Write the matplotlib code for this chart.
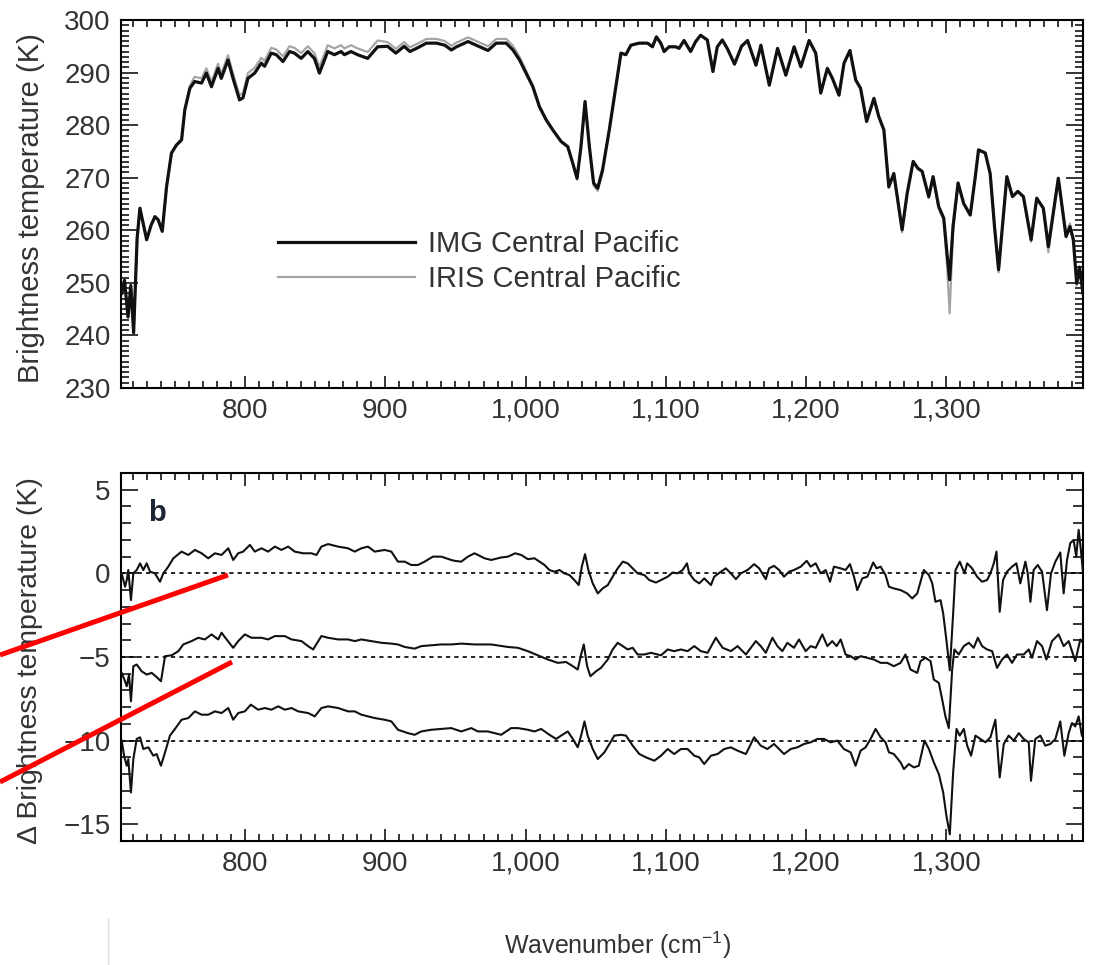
import matplotlib
matplotlib.use("Agg")
import matplotlib.pyplot as plt
from matplotlib.lines import Line2D
from matplotlib.ticker import MultipleLocator, FixedLocator, FixedFormatter

# ---------------- data ----------------
XTICKS = [800, 900, 1000, 1100, 1200, 1300]
XTICKLABELS = ["800", "900", "1,000", "1,100", "1,200", "1,300"]
TOP_YTICKS = [230, 240, 250, 260, 270, 280, 290, 300]
BOT_YTICKS = [-15, -10, -5, 0, 5]
OFFSETS = [0, -5, -10]
SERIES_NAMES = ["IMG Central Pacific", "IRIS Central Pacific"]

WN = [712, 714, 716.5, 718.5, 720.5, 723, 725, 729.8, 733, 735.7,
      738, 740.9, 744, 747.5, 751, 754.7, 757, 760.6, 764, 768.9,
      772.4, 776, 780.7, 783, 787.8, 791.4, 796, 798.5, 802, 806.8,
      811.5, 813.9, 818.6, 822.2, 827, 831.7, 835.2, 840, 844.7, 849.4,
      853, 858.9, 863.7, 868.4, 870.8, 875.5, 880.2, 887.4, 894.5, 901.6,
      907.5, 913.4, 917.5, 922.2, 929.3, 936.5, 942.4, 947.1, 950.7, 959,
      964.9, 973.2, 979.1, 986.2, 991, 995.7, 1000.4, 1005.2, 1009.9, 1014.7,
      1019.4, 1025.3, 1030.1, 1033.6, 1036.7, 1039.5, 1042.4, 1045.5, 1048.5, 1051.4,
      1054.9, 1059.7, 1064.4, 1068, 1071.5, 1075.1, 1081, 1086.9, 1090.5, 1093.3,
      1096.4, 1098.8, 1102.3, 1107.1, 1109.4, 1113, 1117.7, 1121.3, 1124.8, 1129.6,
      1133.6, 1136.7, 1140.3, 1144, 1149, 1154, 1158.3, 1164.3, 1167.8, 1173.8,
      1179.7, 1185.6, 1191.5, 1196.3, 1202.2, 1206.9, 1210.5, 1215.2, 1218.8, 1223.5,
      1227.1, 1231.3, 1235.4, 1238.9, 1243.2, 1248.4, 1251.9, 1255.5, 1259, 1262.6,
      1268.5, 1272.1, 1276.4, 1279.7, 1282.8, 1287.5, 1290.6, 1294.6, 1298.2, 1300.5,
      1302.4, 1304.8, 1308.4, 1312.4, 1317.1, 1320.7, 1323, 1327.8, 1331.3, 1334.4,
      1337.3, 1339.6, 1343.2, 1347.2, 1351, 1355, 1360.5, 1364.5, 1369.2, 1372.8,
      1379.9, 1385.4, 1388.2, 1390.6, 1393, 1395, 1397.5]

IMG = [248.0, 250.5, 243.5, 249.5, 240.5, 258.5, 264.2, 258.2, 261.0, 262.6,
       262.0, 259.8, 268.3, 274.7, 276.2, 277.2, 282.9, 287.0, 288.3, 288.0,
       289.9, 287.3, 290.8, 288.9, 292.4, 288.9, 284.8, 285.2, 288.9, 289.9,
       291.8, 291.2, 293.7, 293.4, 292.1, 294.0, 293.7, 292.7, 294.0, 292.7,
       289.9, 294.0, 293.4, 294.0, 293.4, 294.0, 293.4, 292.7, 294.9, 295.0,
       293.7, 295.0, 294.0, 294.6, 295.6, 295.6, 295.2, 294.3, 294.9, 295.9,
       295.2, 294.2, 295.6, 295.6, 294.3, 292.4, 289.9, 287.3, 283.5, 281.0,
       279.1, 276.9, 275.9, 272.8, 269.9, 275.9, 284.5, 275.9, 269.0, 268.0,
       271.5, 279.1, 287.3, 293.7, 293.4, 295.2, 295.6, 295.6, 294.9, 296.8,
       295.6, 294.0, 294.9, 294.9, 294.6, 296.1, 294.0, 295.9, 297.1, 296.2,
       290.2, 294.9, 296.2, 294.5, 291.6, 295.0, 296.1, 291.4, 295.2, 287.6,
       294.6, 289.5, 294.9, 291.1, 296.1, 293.7, 286.1, 290.8, 288.9, 285.7,
       291.8, 294.2, 288.6, 287.0, 280.7, 285.1, 281.6, 279.1, 268.3, 270.8,
       260.1, 267.0, 273.1, 271.8, 271.2, 266.4, 270.2, 264.5, 262.3, 255.6,
       250.6, 260.7, 269.0, 265.1, 262.9, 270.2, 275.3, 274.7, 270.8, 260.7,
       252.5, 259.4, 270.2, 266.4, 267.4, 266.4, 258.2, 266.1, 264.2, 256.9,
       269.9, 258.8, 260.7, 258.2, 249.9, 253.0, 248.0]

IRIS = [248.0, 250.5, 243.5, 249.5, 240.5, 258.5, 264.2, 258.2, 261.0, 262.6,
        262.0, 259.8, 268.3, 274.7, 276.2, 277.2, 283.1, 287.5, 289.2, 288.9,
        290.8, 288.2, 291.7, 289.8, 293.3, 289.8, 285.7, 286.1, 289.9, 290.9,
        292.8, 292.2, 294.7, 294.4, 293.1, 295.0, 294.7, 293.7, 295.0, 293.7,
        291.1, 295.2, 294.6, 295.2, 294.6, 295.2, 294.6, 293.9, 296.1, 295.8,
        294.5, 295.8, 294.8, 295.4, 296.4, 296.4, 296.0, 295.1, 295.7, 296.7,
        296.0, 295.0, 296.4, 296.4, 295.1, 293.0, 290.3, 287.5, 283.5, 281.0,
        279.1, 276.9, 275.9, 272.8, 269.6, 275.9, 284.5, 275.9, 268.5, 267.5,
        271.0, 279.1, 287.3, 293.7, 293.4, 295.2, 295.6, 295.6, 294.9, 296.8,
        295.6, 294.0, 294.9, 294.9, 294.6, 296.1, 294.0, 295.9, 297.1, 296.2,
        290.2, 294.9, 296.2, 294.5, 291.6, 295.0, 296.1, 291.4, 295.2, 287.6,
        294.6, 289.5, 294.9, 291.1, 296.1, 293.7, 286.1, 290.8, 288.9, 285.7,
        291.8, 294.2, 288.6, 287.0, 280.7, 285.1, 281.6, 279.1, 268.0, 270.8,
        259.6, 267.0, 273.1, 271.8, 271.2, 266.1, 270.2, 264.2, 262.0, 253.5,
        244.2, 259.5, 269.0, 265.1, 262.9, 270.2, 275.3, 274.7, 270.8, 260.7,
        252.0, 259.4, 270.2, 266.4, 267.4, 266.4, 257.8, 266.1, 264.2, 255.8,
        269.9, 259.4, 261.3, 258.5, 249.5, 253.0, 248.0]

D1_WN = [712, 714.4, 715.6, 716.7, 718.6, 720.3, 722.7, 725.1, 727.4, 729.8,
         732.2, 735.7, 739.3, 741.7, 745.2, 748.8, 754.7, 759.5, 764.2, 769.0,
         773.7, 778.5, 783.2, 788.0, 791.5, 795.1, 798.6, 803.4, 806.9, 811.7,
         816.4, 821.2, 825.9, 830.7, 835.4, 841.4, 847.3, 850.9, 854.4, 859.2,
         866.3, 873.4, 878.2, 882.9, 887.6, 892.4, 899.5, 904.3, 909.0, 913.8,
         918.5, 923.2, 928.0, 933.9, 939.9, 947.0, 949.4, 954.1, 958.9, 963.6,
         970.8, 975.5, 982.6, 987.4, 992.6, 996.9, 1001.6, 1006.4, 1009.9, 1013.5,
         1017.0, 1020.6, 1024.2, 1027.7, 1031.3, 1034.8, 1037.9, 1040.1, 1042.4, 1044.8,
         1047.9, 1051.5, 1055.0, 1058.6, 1062.1, 1065.7, 1069.3, 1072.8, 1076.4, 1079.9,
         1084.7, 1088.2, 1093.0, 1097.7, 1101.3, 1104.9, 1108.4, 1112.0, 1115.1, 1116.7,
         1120.3, 1123.9, 1127.4, 1132.2, 1134.5, 1139.3, 1142.8, 1146.4, 1150.0, 1153.5,
         1158.3, 1163.0, 1166.6, 1171.3, 1173.6, 1177.2, 1180.8, 1184.3, 1187.9, 1191.4,
         1196.2, 1200.5, 1203.3, 1206.9, 1210.4, 1214.0, 1217.1, 1219.9, 1224.7, 1228.2,
         1231.3, 1234.2, 1236.5, 1240.1, 1243.7, 1247.9, 1250.3, 1253.2, 1256.7, 1259.1,
         1262.6, 1267.4, 1272.1, 1275.7, 1279.3, 1284.0, 1287.6, 1290.0, 1292.3, 1295.9,
         1297.8, 1300.1, 1302.5, 1304.9, 1306.6, 1309.6, 1313.0, 1314.9, 1318.4, 1322.0,
         1325.5, 1329.1, 1331.5, 1333.9, 1335.8, 1338.1, 1340.5, 1343.3, 1346.9, 1350.0,
         1352.8, 1356.4, 1358.1, 1360.0, 1362.3, 1365.2, 1368.3, 1371.8, 1374.7, 1377.8,
         1381.3, 1383.7, 1386.1, 1388.4, 1390.8, 1392.7, 1394.4, 1396.0, 1397.5]
D1 = [0.0, -0.8, -0.4, 0.2, -1.6, 0.0, 0.2, 0.6, 0.2, 0.6,
      0.1, 0.0, -0.5, 0.0, 0.4, 0.9, 1.3, 1.1, 1.4, 1.2,
      0.9, 1.2, 1.1, 1.5, 0.8, 1.2, 1.3, 1.7, 1.3, 1.5,
      1.3, 1.6, 1.4, 1.6, 1.3, 1.2, 1.2, 1.1, 1.6, 1.75,
      1.6, 1.5, 1.3, 1.5, 1.6, 1.3, 1.4, 1.3, 0.7, 0.7,
      0.5, 0.5, 0.7, 1.0, 1.0, 0.8, 0.75, 0.7, 1.0, 1.2,
      0.9, 0.8, 0.95, 1.0, 1.2, 1.1, 0.85, 0.9, 0.7, 0.5,
      0.2, 0.1, 0.2, 0.0, -0.1, -0.4, -0.7, 0.4, 1.15, 0.2,
      -0.6, -1.2, -0.9, -0.7, -0.2, 0.3, 0.7, 0.6, 0.3, 0.0,
      -0.1, -0.4, -0.55, -0.35, -0.2, 0.05, 0.0, 0.2, 0.6, 0.0,
      -0.4, -0.6, -0.3, -0.7, -0.2, 0.1, 0.3, 0.0, -0.35, 0.0,
      0.2, 0.55, 0.3, -0.35, 0.3, 0.45, 0.2, -0.2, 0.1, 0.2,
      0.4, 0.75, 0.4, 0.6, 0.0, 0.2, -0.5, 0.4, 0.3, 0.2,
      0.55, -0.2, -1.0, -0.3, -0.2, 0.65, 0.3, 0.4, -0.1, -0.8,
      -0.9, -1.0, -1.2, -1.5, -1.2, 0.2, -0.1, -0.6, -1.7, -1.6,
      -2.4, -4.0, -5.8, -2.4, 0.2, 0.7, 0.0, 0.6, 0.3, -0.2,
      -0.5, -0.4, 0.0, 0.6, 1.3, -2.3, -0.4, 0.1, 0.4, 0.6,
      -0.6, 0.7, 0.0, -1.7, 0.2, 0.5, 0.1, -2.2, 0.0, 0.7,
      1.25, -1.2, 0.8, 1.8, 2.0, 1.0, 2.6, 1.4, 0.0]

D2_WN = [712, 713.9, 715.6, 717.2, 718.6, 720.3, 722.7, 726.2, 729.8, 733.4,
         736.9, 740.0, 742.9, 747.6, 752.4, 755.9, 761.8, 766.6, 771.3, 776.1,
         780.8, 783.2, 786.8, 791.5, 795.1, 799.8, 804.6, 811.7, 816.4, 821.2,
         828.3, 833.1, 840.2, 844.9, 848.5, 854.4, 859.2, 866.3, 873.4, 878.2,
         882.9, 890.0, 897.1, 904.3, 909.0, 913.8, 920.9, 925.6, 932.7, 939.9,
         947.0, 954.1, 963.6, 975.5, 987.4, 994.5, 1001.6, 1008.7, 1015.9, 1023.0,
         1028.9, 1033.7, 1037.2, 1039.6, 1041.5, 1043.9, 1046.2, 1050.3, 1053.8, 1058.6,
         1062.1, 1065.7, 1069.3, 1072.8, 1076.4, 1079.9, 1084.7, 1089.4, 1096.6, 1101.3,
         1106.0, 1110.8, 1115.5, 1120.3, 1125.0, 1129.8, 1135.7, 1140.5, 1146.4, 1151.2,
         1157.1, 1164.2, 1167.7, 1171.3, 1176.0, 1179.6, 1183.1, 1186.7, 1191.4, 1195.0,
         1199.7, 1203.3, 1206.9, 1211.6, 1215.2, 1218.7, 1221.8, 1224.7, 1228.2, 1231.8,
         1235.3, 1238.9, 1243.7, 1248.4, 1253.2, 1257.9, 1262.6, 1267.4, 1270.9, 1274.5,
         1279.3, 1281.6, 1285.2, 1288.8, 1291.1, 1294.7, 1297.1, 1299.4, 1301.8, 1304.2,
         1305.8, 1308.9, 1312.5, 1316.1, 1319.6, 1322.5, 1325.5, 1329.1, 1332.7, 1336.2,
         1339.8, 1343.3, 1346.9, 1350.5, 1355.2, 1358.8, 1361.1, 1364.7, 1368.3, 1371.4,
         1375.4, 1380.1, 1383.7, 1387.3, 1392.0, 1395.6, 1397.5]
D2 = [-5.95, -6.35, -6.75, -6.05, -7.65, -5.55, -5.45, -5.85, -6.05, -5.95,
      -6.2, -6.45, -4.95, -4.9, -4.65, -4.25, -4.05, -3.85, -3.95, -3.65,
      -3.95, -3.55, -3.95, -4.45, -4.05, -3.65, -3.85, -3.85, -3.95, -3.75,
      -3.75, -3.95, -4.05, -4.35, -4.55, -3.75, -3.85, -3.95, -3.95, -4.05,
      -3.95, -4.05, -4.15, -4.2, -4.25, -4.4, -4.5, -4.35, -4.3, -4.25,
      -4.25, -4.2, -4.25, -4.25, -4.4, -4.45, -4.65, -4.9, -5.15, -5.35,
      -5.3, -5.55, -5.75, -4.85, -4.25, -5.55, -6.15, -5.85, -5.65, -5.15,
      -4.55, -4.15, -4.35, -4.55, -4.45, -4.85, -4.85, -4.75, -4.9, -4.55,
      -4.65, -4.55, -4.65, -4.35, -4.65, -4.75, -3.85, -4.45, -4.65, -4.35,
      -4.85, -4.05, -4.35, -4.75, -3.85, -4.35, -4.65, -4.15, -4.45, -3.95,
      -4.65, -4.35, -4.45, -3.65, -4.35, -4.05, -4.35, -3.95, -4.85, -4.95,
      -5.15, -4.95, -5.05, -5.15, -5.35, -5.35, -5.55, -5.35, -4.85, -5.75,
      -5.95, -5.25, -5.05, -5.25, -6.35, -6.55, -7.55, -8.55, -9.25, -5.75,
      -4.55, -4.85, -4.35, -4.15, -4.45, -3.85, -4.35, -4.55, -4.65, -5.65,
      -5.15, -4.85, -5.35, -4.85, -4.85, -4.55, -5.05, -4.05, -4.35, -5.15,
      -4.05, -3.65, -4.35, -4.05, -5.25, -3.95, -4.15]

D3_WN = [712, 713.9, 715.6, 716.7, 718.6, 720.3, 722.7, 725.1, 727.4, 731.0,
         734.5, 736.9, 740.0, 742.9, 746.4, 750.0, 754.7, 759.5, 764.2, 769.0,
         773.7, 778.5, 783.2, 788.0, 791.5, 795.1, 799.8, 804.1, 809.3, 814.1,
         818.8, 823.6, 828.3, 833.1, 837.8, 844.9, 849.7, 854.4, 859.2, 866.3,
         873.4, 878.2, 882.9, 887.6, 892.4, 899.5, 904.3, 909.0, 916.1, 920.9,
         925.6, 932.7, 939.9, 947.0, 954.1, 961.3, 966.0, 973.1, 982.6, 989.7,
         994.5, 1001.6, 1006.4, 1011.1, 1017.0, 1021.8, 1025.3, 1030.1, 1033.7, 1037.2,
         1039.6, 1042.0, 1044.3, 1047.9, 1051.5, 1056.2, 1059.8, 1063.3, 1068.1, 1071.6,
         1076.4, 1081.1, 1085.9, 1091.8, 1096.6, 1101.3, 1106.0, 1110.8, 1115.5, 1120.3,
         1123.9, 1127.4, 1132.2, 1136.9, 1141.7, 1146.4, 1151.2, 1157.1, 1163.0, 1167.7,
         1172.4, 1177.2, 1184.3, 1189.1, 1193.8, 1198.6, 1203.3, 1208.1, 1212.8, 1217.5,
         1222.3, 1227.0, 1231.8, 1235.3, 1238.9, 1242.5, 1246.0, 1249.6, 1253.2, 1256.7,
         1259.1, 1262.6, 1267.4, 1269.8, 1273.3, 1276.9, 1280.4, 1284.5, 1287.6, 1291.1,
         1294.7, 1297.8, 1300.1, 1302.5, 1304.9, 1307.3, 1309.6, 1312.5, 1314.9, 1317.7,
         1320.8, 1324.4, 1327.9, 1331.5, 1335.0, 1338.1, 1341.0, 1344.5, 1348.1, 1351.7,
         1355.2, 1358.8, 1360.4, 1363.5, 1367.1, 1370.6, 1374.2, 1377.8, 1381.3, 1384.2,
         1387.3, 1389.6, 1392.0, 1394.4, 1396.7]
D3 = [-10.0, -11.0, -11.5, -11.1, -13.1, -11.1, -9.9, -9.8, -10.5, -10.4,
      -10.9, -10.8, -11.5, -10.7, -9.7, -9.3, -8.75, -8.65, -8.25, -8.45,
      -8.45, -8.25, -8.35, -8.05, -8.75, -8.35, -8.25, -7.85, -8.15, -8.05,
      -8.15, -7.95, -8.15, -8.05, -8.25, -8.35, -8.55, -8.05, -7.95, -8.05,
      -8.25, -8.25, -8.45, -8.55, -8.65, -8.75, -8.85, -9.35, -9.55, -9.65,
      -9.45, -9.35, -9.3, -9.25, -9.45, -9.25, -9.45, -9.45, -9.65, -9.25,
      -9.25, -9.35, -9.45, -9.3, -9.65, -9.9, -9.7, -9.45, -9.9, -10.4,
      -9.7, -8.85, -9.7, -10.5, -11.1, -10.7, -10.2, -9.7, -9.65, -9.7,
      -10.3, -10.8, -11.0, -11.2, -10.9, -10.5, -10.8, -10.5, -10.5, -10.9,
      -11.0, -11.4, -10.9, -10.8, -10.5, -10.4, -10.6, -10.8, -9.8, -10.3,
      -10.5, -10.2, -10.8, -10.5, -10.4, -10.2, -10.1, -9.9, -9.9, -10.1,
      -10.0, -10.5, -10.7, -11.5, -10.6, -10.4, -9.9, -9.3, -9.8, -10.1,
      -10.7, -10.8, -11.3, -11.7, -11.4, -11.6, -11.5, -10.0, -10.5, -11.3,
      -12.0, -13.1, -14.5, -15.6, -11.9, -9.3, -9.7, -9.3, -10.3, -10.9,
      -9.7, -9.9, -10.1, -9.8, -8.75, -12.2, -10.2, -9.7, -10.0, -9.55,
      -9.9, -10.1, -12.4, -9.9, -9.7, -10.3, -10.2, -9.9, -8.85, -10.9,
      -9.55, -8.95, -9.15, -8.55, -9.7]

# ---------------- style ----------------
plt.rcParams["font.family"] = ["Liberation Sans", "DejaVu Sans"]
plt.rcParams["mathtext.fontset"] = "custom"
plt.rcParams["mathtext.rm"] = "Liberation Sans"
plt.rcParams["mathtext.it"] = "Liberation Sans:italic"
plt.rcParams["mathtext.bf"] = "Liberation Sans:bold"

TXT = "#333333"
W, H = 1093, 965
fig = plt.figure(figsize=(W / 100, H / 100), dpi=100)

ax1 = fig.add_axes([121 / W, 1 - 388 / H, 962 / W, 368 / H])
ax2 = fig.add_axes([121 / W, 1 - 841 / H, 962 / W, 368 / H])

for ax in (ax1, ax2):
    ax.set_xlim(711.5, 1397.5)
    ax.xaxis.set_major_locator(FixedLocator(XTICKS))
    ax.xaxis.set_major_formatter(FixedFormatter(XTICKLABELS))
    ax.xaxis.set_minor_locator(MultipleLocator(10))
    ax.yaxis.set_minor_locator(MultipleLocator(1))
    ax.tick_params(which="both", direction="in", top=True, right=True,
                   width=1.1, color="black", labelsize=20, labelcolor=TXT)
    ax.tick_params(axis="x", which="major", length=9, pad=7)
    ax.tick_params(axis="x", which="minor", length=5)
    ax.tick_params(axis="y", which="major", length=12, pad=7.5)
    for s in ax.spines.values():
        s.set_linewidth(1.5)

ax1.tick_params(axis="y", which="minor", length=6)
ax2.tick_params(axis="y", which="minor", length=7)

# top panel
l_img, = ax1.plot(WN, IMG, color="#111111", lw=2.3, solid_joinstyle="round", zorder=3)
l_iris, = ax1.plot(WN, IRIS, color="#a5a5a5", lw=1.6, solid_joinstyle="round", zorder=2)
ax1.set_ylim(230, 300)
ax1.yaxis.set_major_locator(FixedLocator(TOP_YTICKS))
ax1.set_ylabel("Brightness temperature (K)", fontsize=21, color=TXT)
ax1.yaxis.set_label_coords(-0.079, 0.49)
ax1.legend([l_img, l_iris], SERIES_NAMES, loc="upper left",
           bbox_to_anchor=(0.1632, 0.43), frameon=False, fontsize=21,
           handlelength=4.7, handletextpad=0.45, labelspacing=0.25,
           borderpad=0, borderaxespad=0, labelcolor=TXT)

# bottom panel
for off in OFFSETS:
    ax2.axhline(off, color="black", lw=1.2, linestyle=(0, (2.5, 2.5)), zorder=1)
for xs, ys in ((D1_WN, D1), (D2_WN, D2), (D3_WN, D3)):
    ax2.plot(xs, ys, color="#111111", lw=1.5, solid_joinstyle="round", zorder=3)
ax2.set_ylim(-16, 6)
ax2.yaxis.set_major_locator(FixedLocator(BOT_YTICKS))
ax2.set_ylabel("\u0394 Brightness temperature (K)", fontsize=20.5, color=TXT)
ax2.yaxis.set_label_coords(-0.081, 0.49)
ax2.set_xlabel("Wavenumber (cm$^{-1}$)", fontsize=18, color=TXT)
ax2.xaxis.set_label_coords(0.5166, -0.24)
ax2.text(0.028, 0.93, "b", transform=ax2.transAxes, fontsize=21,
         fontweight="bold", color="#1c2533", ha="left", va="top")

# overlay marks
fig.add_artist(Line2D([0, 228 / W], [1 - 655 / H, 1 - 575 / H],
                      color="#ff0000", lw=3.6, solid_capstyle="butt", zorder=20))
fig.add_artist(Line2D([0, 232 / W], [1 - 782 / H, 1 - 662 / H],
                      color="#ff0000", lw=3.6, solid_capstyle="butt", zorder=20))
fig.add_artist(Line2D([108 / W, 108 / W], [0, 1 - 918 / H],
                      color="#dddddd", lw=1, zorder=1))

fig.savefig("out.png", dpi=100)
